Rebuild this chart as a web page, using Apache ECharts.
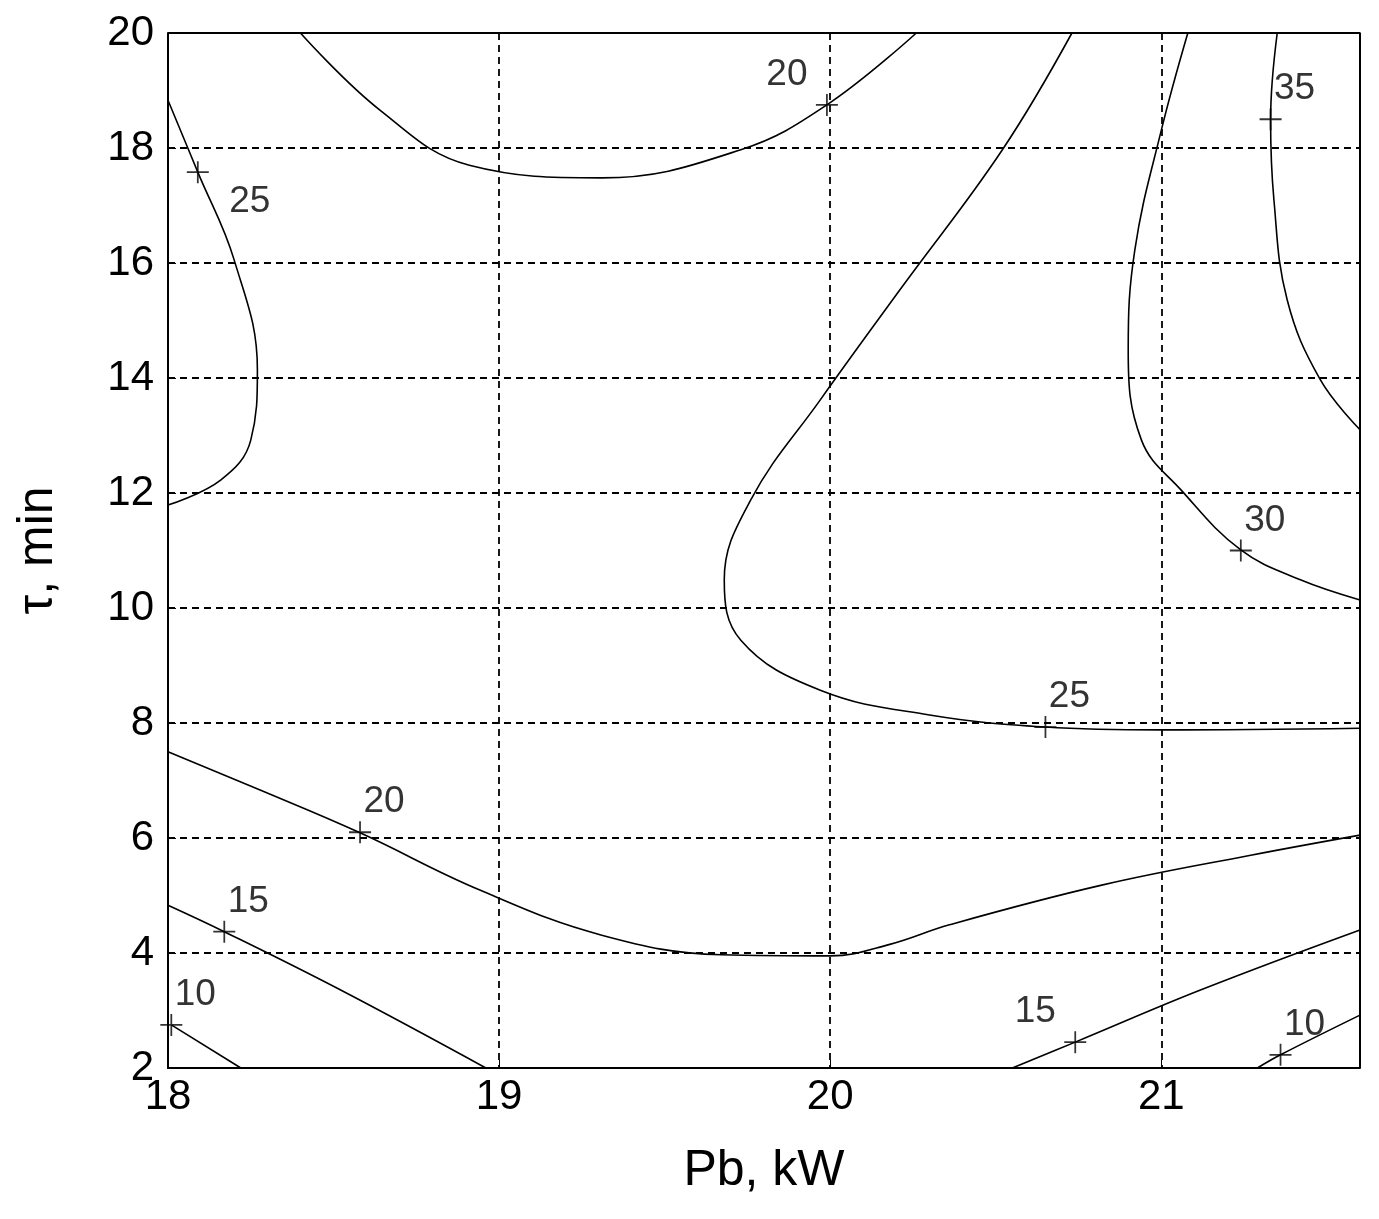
<!DOCTYPE html>
<html><head><meta charset="utf-8">
<script src="https://cdn.jsdelivr.net/npm/echarts@6/dist/echarts.min.js"></script>
<style>html,body{margin:0;padding:0;background:#fff}#c{width:1379px;height:1219px}</style>
</head><body><div id="c"></div>
<script>
const xTicks = [18, 19, 20, 21];
const yTicks = [2, 4, 6, 8, 10, 12, 14, 16, 18, 20];
const c25a = [[18,18.83],[18.09,17.58],[18.2,16.05],[18.27,14.14],[18.25,12.92],[18.16,12.23],[18,11.79]];
const c20a = [[18.4,20],[18.64,18.66],[18.91,17.7],[19.31,17.48],[19.73,17.97],[19.99,18.75],[20.26,20]];
const c25b = [[20.73,20],[20.52,17.97],[20.21,15.53],[19.97,13.62],[19.76,11.88],[19.68,10.49],[19.73,9.44],[19.97,8.57],[20.3,8.14],[20.65,7.93],[21,7.88],[21.6,7.91]];
const c30 = [[21.08,20],[21,18.31],[20.92,16.23],[20.9,14.49],[20.94,12.92],[21.06,12.05],[21.24,11.01],[21.42,10.49],[21.6,10.14]];
const c35 = [[21.35,20],[21.33,18.49],[21.34,17.1],[21.38,15.36],[21.48,13.97],[21.6,13.1]];
const c20b = [[18,7.5],[18.28,6.83],[18.58,6.09],[18.94,5.1],[19.31,4.31],[19.67,3.97],[20,3.95],[20.18,4.15],[20.36,4.49],[20.82,5.18],[21.27,5.7],[21.6,6.05]];
const c15a = [[18,4.83],[18.17,4.37],[18.52,3.36],[18.96,2]];
const c10a = [[18.01,2.75],[18.22,2]];
const c15b = [[20.55,2],[20.74,2.45],[21.12,3.36],[21.6,4.4]];
const c10b = [[21.29,2],[21.36,2.23],[21.6,2.92]];
const contours = [c25a,c20a,c25b,c30,c35,c20b,c15a,c10a,c15b,c10b];
const markers = [[18.09,17.58,'25','rb'],[19.99,18.75,'20','lt'],[21.33,18.5,'35','rt'],[21.24,11.0,'30','rt'],[20.65,7.93,'25','rt'],[18.58,6.1,'20','rt'],[18.17,4.37,'15','rt'],[18.01,2.75,'10','rt'],[20.74,2.45,'15','lt'],[21.36,2.23,'10','rt']];
const offs = {rb:[52,30], lt:[-40,-30], rt:[24,-30]};
const font = 'Liberation Sans, Arial, sans-serif';
const series = contours.map(d => ({type:'line', data:d, smooth:0.4, showSymbol:false, lineStyle:{color:'#000', width:1.6}, silent:true}));
series.push({type:'scatter', data:markers.map(m=>({value:[m[0],m[1]], label:{show:true, color:'#000', formatter:m[2], position:'inside', offset:offs[m[3]]}})),
  symbol:'path://M4.6,0h0.8v4.6h4.6v0.8h-4.6v4.6h-0.8v-4.6h-4.6v-0.8h4.6z', symbolSize:22, itemStyle:{color:'#000'},
  label:{color:'#000', fontSize:37, fontFamily:font}});
const chart = echarts.init(document.getElementById('c'));
chart.setOption({
  animation:false,
  grid:{left:168, right:19, top:33, bottom:151},
  xAxis:{type:'value', min:18, max:21.6, interval:1, name:'Pb, kW', nameLocation:'middle', nameGap:78,
    nameTextStyle:{fontSize:50, color:'#000', fontFamily:font},
    axisLine:{show:true, lineStyle:{color:'#000', width:2}}, axisTick:{inside:true, length:8, lineStyle:{color:'#000'}},
    axisLabel:{fontSize:42, color:'#000', fontFamily:font, margin:8, formatter:v=>xTicks.includes(v)?String(v):''},
    splitLine:{show:true, lineStyle:{color:'#000', type:[7,5], width:1.8}}},
  yAxis:{type:'value', min:2, max:20, interval:2, name:'τ, min', nameLocation:'middle', nameGap:105,
    nameTextStyle:{fontSize:50, color:'#000', fontFamily:font},
    axisLine:{show:true, lineStyle:{color:'#000', width:2}}, axisTick:{inside:true, length:8, lineStyle:{color:'#000'}},
    axisLabel:{fontSize:42, color:'#000', fontFamily:font, margin:14, formatter:v=>yTicks.includes(v)?String(v):''},
    splitLine:{show:true, lineStyle:{color:'#000', type:[7,5], width:1.8}}},
  series:series.concat([{type:'line', data:[[18,20],[21.6,20],[21.6,2]], showSymbol:false, lineStyle:{color:'#000', width:2}, silent:true}])
});
</script></body></html>
